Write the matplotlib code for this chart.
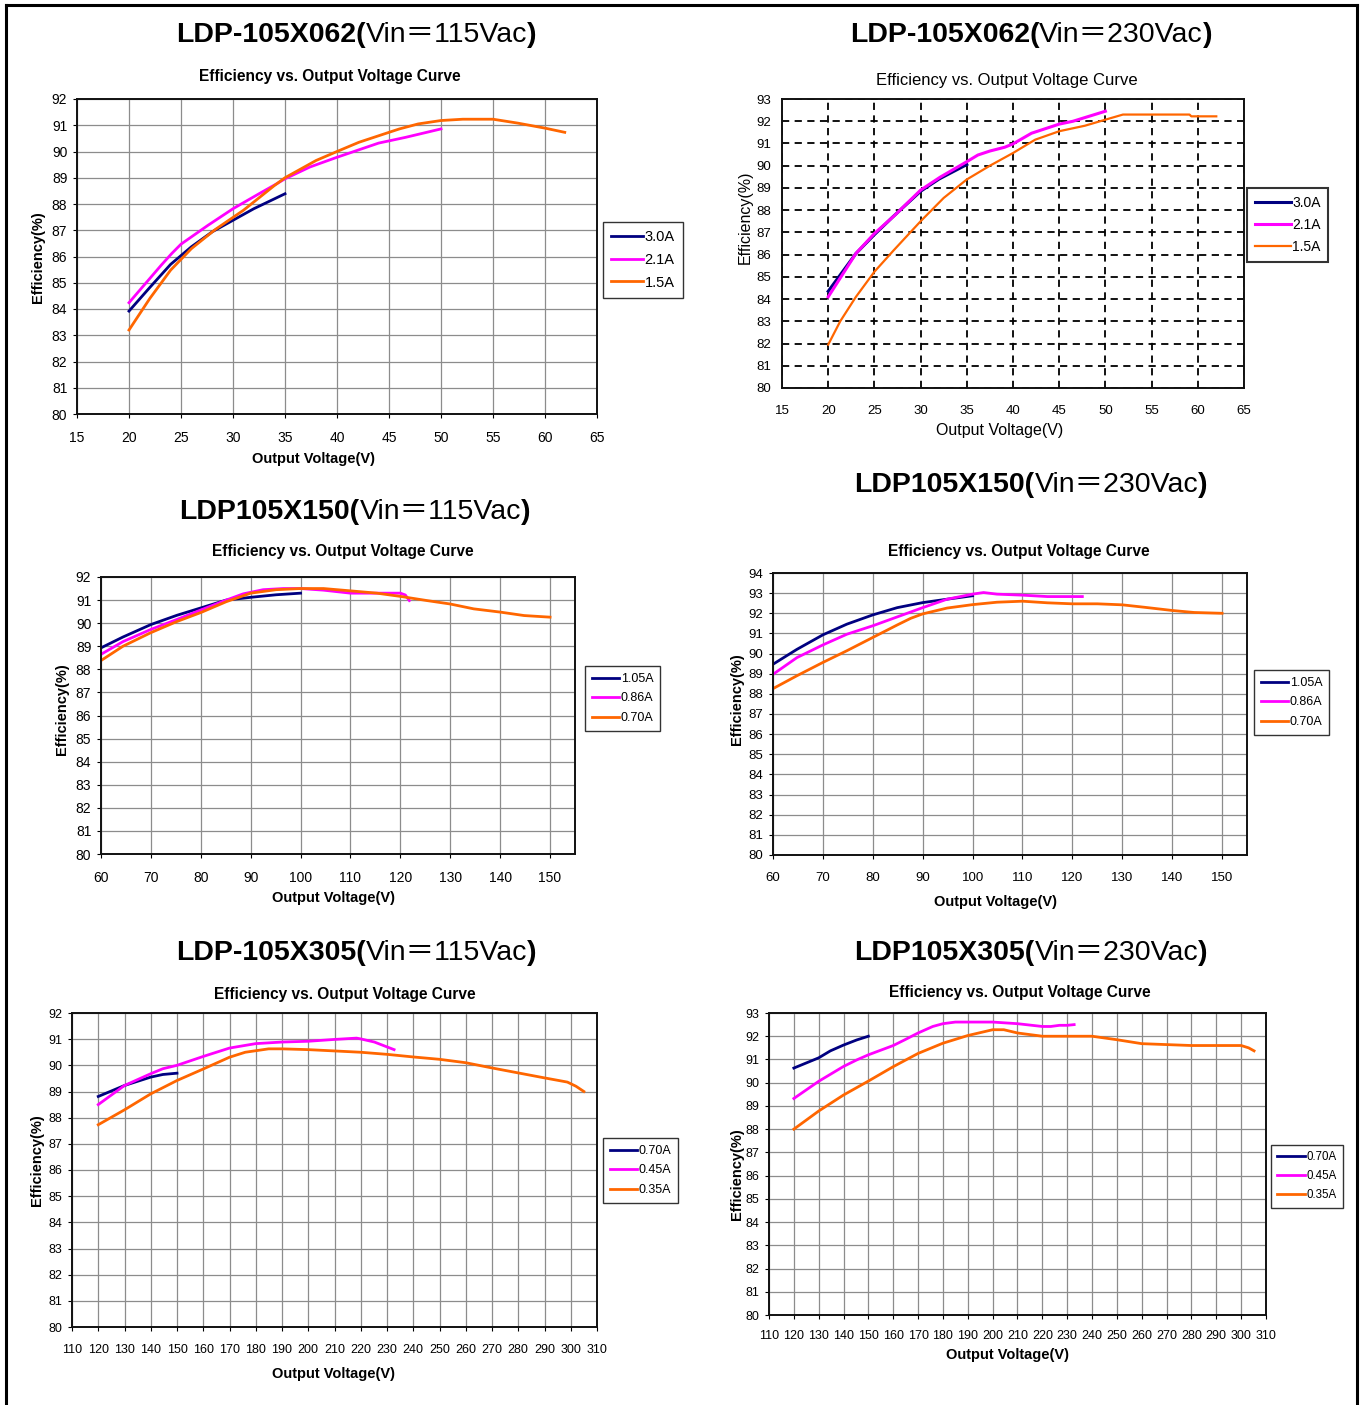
import matplotlib
matplotlib.use("Agg")
import matplotlib.pyplot as plt
from matplotlib.lines import Line2D

W, H = 1362, 1405
NAVY = "#000080"
MAGENTA = "#FF00FF"
ORANGE = "#FF6600"

# ---- LDP-105X062, 115Vac
p1_v_30 = [20, 22, 24, 26, 28, 30, 32, 34, 35]
p1_e_30 = [83.92, 84.82, 85.70, 86.37, 86.94, 87.38, 87.82, 88.2, 88.39]
p1_v_21 = [20, 23.1, 24.1, 25, 27.6, 30, 32.5, 34.2, 35, 37.4, 40, 44, 46.6, 50]
p1_e_21 = [84.24, 85.67, 86.11, 86.47, 87.19, 87.82, 88.39, 88.77, 88.96, 89.41, 89.78, 90.32, 90.54, 90.86]
p1_v_15 = [20, 22, 24, 26, 28.3, 31, 34, 35, 38, 40, 42.1, 45, 46, 47.8, 50, 52.1, 55, 55.8, 57.4, 60, 61.9]
p1_e_15 = [83.2, 84.4, 85.48, 86.3, 87.03, 87.76, 88.71, 89.0, 89.66, 90.0, 90.35, 90.73, 90.86, 91.05,
           91.18, 91.23, 91.23, 91.18, 91.08, 90.89, 90.73]

# ---- LDP-105X062, 230Vac
p2_v_30 = [20, 23, 25, 27, 30, 32, 35]
p2_e_30 = [84.35, 86.05, 86.9, 87.7, 88.85, 89.4, 90.05]
p2_v_21 = [20, 23, 25, 27.1, 30, 32.1, 35, 36.2, 37.5, 39.1, 40, 42, 45, 46.5, 50]
p2_e_21 = [84.1, 86.05, 86.95, 87.73, 88.9, 89.48, 90.18, 90.48, 90.66, 90.83, 90.98, 91.46, 91.87, 92.0, 92.45]
p2_v_15 = [20, 21.3, 23, 25, 27.1, 30, 32.5, 35, 37.5, 40, 42.4, 45, 47.8, 50, 51.9, 55, 59.1, 59.3, 62]
p2_e_15 = [81.95, 83.0, 84.1, 85.23, 86.2, 87.5, 88.55, 89.38, 90.0, 90.57, 91.17, 91.55, 91.8, 92.07,
           92.3, 92.3, 92.3, 92.22, 92.22]

# ---- LDP105X150, 115Vac
p3_v_105 = [60, 64.4, 70, 75.2, 80, 85.1, 90, 95.1, 100]
p3_e_105 = [88.93, 89.4, 89.94, 90.34, 90.66, 91.0, 91.12, 91.23, 91.3]
p3_v_086 = [60, 64.4, 70, 75.2, 80, 85.1, 88.5, 92.5, 96.5, 100, 104.6, 110, 115.3, 120, 121, 121.8]
p3_e_086 = [88.65, 89.2, 89.73, 90.16, 90.57, 91.0, 91.27, 91.45, 91.5, 91.5, 91.43, 91.3, 91.3, 91.3, 91.22, 90.98]
p3_v_070 = [60, 64.4, 70, 75.2, 80, 85.1, 90, 95.1, 100, 104.6, 110, 115.3, 120, 125.3, 130, 134.7, 140, 144.8, 150]
p3_e_070 = [88.38, 89.0, 89.59, 90.07, 90.46, 90.93, 91.3, 91.45, 91.5, 91.5, 91.4, 91.3, 91.16, 90.98,
            90.83, 90.62, 90.48, 90.33, 90.26]

# ---- LDP105X150, 230Vac
p4_v_105 = [60, 64.8, 70, 74.8, 80, 84.9, 90, 94.9, 100]
p4_e_105 = [89.47, 90.21, 90.93, 91.46, 91.92, 92.28, 92.53, 92.7, 92.87]
p4_v_086 = [60, 64.8, 70, 74.8, 80, 84.9, 90, 94.9, 100, 102.2, 104.9, 110, 115, 122]
p4_e_086 = [88.97, 89.8, 90.43, 90.96, 91.38, 91.82, 92.28, 92.7, 92.95, 93.03, 92.95, 92.9, 92.83, 92.83]
p4_v_070 = [60, 64.8, 70, 74.8, 80, 84.9, 87.6, 90, 94.9, 100, 104.9, 110, 115, 120, 125, 130, 134.4, 140, 144.4, 150]
p4_e_070 = [88.26, 88.9, 89.56, 90.14, 90.8, 91.42, 91.75, 91.97, 92.26, 92.43, 92.55, 92.6, 92.52, 92.47,
            92.47, 92.42, 92.3, 92.14, 92.04, 92.0]

# ---- LDP-105X305, 115Vac
p5_v_070 = [120, 130, 140, 144.6, 150]
p5_e_070 = [88.81, 89.23, 89.55, 89.65, 89.7]
p5_v_045 = [120, 130, 140, 144.6, 150, 160, 170, 180, 190, 200, 210, 218.4, 220, 225.2, 232.7]
p5_e_045 = [88.5, 89.23, 89.68, 89.87, 90.0, 90.34, 90.66, 90.83, 90.89, 90.92, 90.99, 91.04, 91.01, 90.89, 90.6]
p5_v_035 = [120, 130, 140, 150, 160, 170, 176, 184.9, 190, 200, 210, 220, 230, 240, 250, 260, 270, 280,
            290, 298.7, 302, 305]
p5_e_035 = [87.73, 88.3, 88.91, 89.42, 89.86, 90.31, 90.5, 90.63, 90.63, 90.6, 90.55, 90.5, 90.42, 90.32,
            90.23, 90.1, 89.9, 89.71, 89.52, 89.36, 89.2, 89.0]

# ---- LDP105X305, 230Vac
p6_v_070 = [120, 130, 134.7, 140, 145.3, 150]
p6_e_070 = [90.63, 91.07, 91.37, 91.62, 91.84, 92.0]
p6_v_045 = [120, 130, 140, 145.3, 150, 160, 164.7, 170, 175.9, 180, 185, 200, 210, 220, 223.4, 226.9, 230, 232.8]
p6_e_045 = [89.32, 90.06, 90.7, 90.98, 91.2, 91.6, 91.85, 92.14, 92.42, 92.54, 92.61, 92.61, 92.54, 92.42,
            92.42, 92.47, 92.47, 92.5]
p6_v_035 = [120, 130, 140, 150, 160, 170, 180, 190, 200, 204.5, 210, 220, 240, 250, 260, 270, 280, 300, 303, 305.2]
p6_e_035 = [88.0, 88.78, 89.47, 90.07, 90.69, 91.26, 91.7, 92.03, 92.28, 92.28, 92.14, 92.0, 92.0, 91.85,
            91.68, 91.64, 91.6, 91.6, 91.5, 91.37]

SANS = ["Liberation Sans", "Noto Sans CJK SC", "DejaVu Sans"]
NARROW = ["Liberation Sans Narrow", "Liberation Sans", "DejaVu Sans"]
plt.rcParams["font.family"] = SANS

fig = plt.figure(figsize=(W / 100, H / 100), dpi=100)


def fx(x):
    return x / W


def fy(y):
    return 1 - y / H


def add_ax(l, t, r, b):
    return fig.add_axes([fx(l), fy(b), (r - l) / W, (b - t) / H])


def mixed_title(cx, cy, parts, size=20.5):
    renderer = fig.canvas.get_renderer()
    texts = []
    for s, w in parts:
        texts.append(fig.text(0, fy(cy), s, fontsize=size, fontweight=w, va="center", ha="left", family=SANS))
    widths = [t.get_window_extent(renderer).width for t in texts]
    x = cx - sum(widths) / 2
    for t, wd in zip(texts, widths):
        t.set_x(fx(x))
        x += wd


def title(cx, cy, model, vin):
    mixed_title(cx, cy, [(model + "(", "bold"), ("Vin＝" + vin, "normal"), (")", "bold")])


def style_axes(ax, xlim, xticks, ylim, dashed=False, family=SANS, tsize=10, xpad=9):
    ax.set_xlim(*xlim)
    ax.set_ylim(*ylim)
    ax.set_xticks(xticks)
    ax.set_yticks(range(ylim[0], ylim[1] + 1))
    if dashed:
        ax.grid(True, color="black", linestyle=(0, (4, 3)), linewidth=1.3)
        ax.tick_params(length=0, pad=8, labelsize=tsize)
        ax.tick_params(axis="x", pad=12)
    else:
        ax.grid(True, color="#8c8c8c", linewidth=0.9)
        ax.tick_params(length=3, width=0.8, labelsize=tsize, pad=4)
        ax.tick_params(axis="x", pad=xpad)
    for lab in ax.get_xticklabels() + ax.get_yticklabels():
        lab.set_family(family)
    for sp in ax.spines.values():
        sp.set_linewidth(1.4)
        sp.set_color("#111111")
    ax.set_axisbelow(True)


def legend(ax, l, t, size=9.5, family=SANS, lw=1.0, hl=2.2):
    lg = ax.legend(loc="upper left", bbox_to_anchor=(fx(l), fy(t)), bbox_transform=fig.transFigure,
                   frameon=True, fancybox=False, edgecolor="black", borderpad=0.55, handlelength=hl,
                   handletextpad=0.1, labelspacing=0.6, borderaxespad=0,
                   prop={"family": family, "size": size})
    lg.get_frame().set_linewidth(lw)
    return lg


def labels(xl_x, xl_y, yl_x, yl_y, weight="bold", size=10.5, family=SANS):
    fig.text(fx(xl_x), fy(xl_y), "Output Voltage(V)", ha="center", va="center", fontsize=size,
             fontweight=weight, family=family)
    fig.text(fx(yl_x), fy(yl_y), "Efficiency(%)", ha="center", va="center", rotation=90, fontsize=size,
             fontweight=weight, family=family)


def subtitle(cx, cy, weight="bold", family=NARROW, size=11.2):
    fig.text(fx(cx), fy(cy), "Efficiency vs. Output Voltage Curve", ha="center", va="center",
             fontsize=size, fontweight=weight, family=family)


# panel 1
ax1 = add_ax(77, 99, 597, 414)
ax1.plot(p1_v_30, p1_e_30, color=NAVY, lw=2, label="3.0A")
ax1.plot(p1_v_21, p1_e_21, color=MAGENTA, lw=2, label="2.1A")
ax1.plot(p1_v_15, p1_e_15, color=ORANGE, lw=2, label="1.5A")
style_axes(ax1, (15, 65), range(15, 66, 5), (80, 92))
legend(ax1, 603, 222, size=10.5)
title(356, 35, "LDP-105X062", "115Vac")
subtitle(330, 77)
labels(314, 459, 38, 257)

# panel 2
ax2 = add_ax(782, 99, 1244, 388)
ax2.plot(p2_v_30, p2_e_30, color=NAVY, lw=2.2, label="3.0A")
ax2.plot(p2_v_21, p2_e_21, color=MAGENTA, lw=2.2, label="2.1A")
ax2.plot(p2_v_15, p2_e_15, color=ORANGE, lw=1.6, label="1.5A")
style_axes(ax2, (15, 65), range(15, 66, 5), (80, 93), dashed=True, family=NARROW, tsize=9.5)
legend(ax2, 1247, 188, size=10, family=NARROW, lw=1.5, hl=2.6)
title(1031, 35, "LDP-105X062", "230Vac")
subtitle(1007, 80, weight="normal", size=12)
labels(1000, 430, 745, 217, weight="normal", size=11.5, family=NARROW)

# panel 3
ax3 = add_ax(101, 577, 575, 854)
ax3.plot(p3_v_105, p3_e_105, color=NAVY, lw=2, label="1.05A")
ax3.plot(p3_v_086, p3_e_086, color=MAGENTA, lw=2, label="0.86A")
ax3.plot(p3_v_070, p3_e_070, color=ORANGE, lw=2, label="0.70A")
style_axes(ax3, (60, 155), range(60, 151, 10), (80, 92))
legend(ax3, 585, 666, size=9)
title(355, 512, "LDP105X150", "115Vac")
subtitle(343, 552)
labels(334, 898, 62, 709)

# panel 4
ax4 = add_ax(773, 573, 1247, 855)
ax4.plot(p4_v_105, p4_e_105, color=NAVY, lw=2, label="1.05A")
ax4.plot(p4_v_086, p4_e_086, color=MAGENTA, lw=2, label="0.86A")
ax4.plot(p4_v_070, p4_e_070, color=ORANGE, lw=2, label="0.70A")
style_axes(ax4, (60, 155), range(60, 151, 10), (80, 94), tsize=9.5)
legend(ax4, 1254, 670, size=9)
title(1031, 485, "LDP105X150", "230Vac")
subtitle(1019, 552)
labels(995, 902, 737, 699)

# panel 5
ax5 = add_ax(72, 1013, 597, 1327)
ax5.plot(p5_v_070, p5_e_070, color=NAVY, lw=2, label="0.70A")
ax5.plot(p5_v_045, p5_e_045, color=MAGENTA, lw=2, label="0.45A")
ax5.plot(p5_v_035, p5_e_035, color=ORANGE, lw=2, label="0.35A")
style_axes(ax5, (110, 310), range(110, 311, 10), (80, 92), tsize=9)
legend(ax5, 603, 1138, size=9)
title(356, 953, "LDP-105X305", "115Vac")
subtitle(345, 995)
labels(333, 1374, 37, 1160)

# panel 6
ax6 = add_ax(769, 1013, 1266, 1315)
ax6.plot(p6_v_070, p6_e_070, color=NAVY, lw=2, label="0.70A")
ax6.plot(p6_v_045, p6_e_045, color=MAGENTA, lw=2, label="0.45A")
ax6.plot(p6_v_035, p6_e_035, color=ORANGE, lw=2, label="0.35A")
style_axes(ax6, (110, 310), range(110, 311, 10), (80, 93), tsize=9, xpad=8)
legend(ax6, 1271, 1145, size=8.3, hl=2.4)
title(1031, 953, "LDP105X305", "230Vac")
subtitle(1020, 993)
labels(1008, 1355, 737, 1174)

# page frame
for xs, ys in [((6, 1357), (5, 5)), ((6, 6), (5, H)), ((1357, 1357), (5, H))]:
    fig.add_artist(Line2D([fx(xs[0]), fx(xs[1])], [fy(ys[0]), fy(ys[1])], color="black", lw=2.2,
                          transform=fig.transFigure))

fig.savefig("out.png", dpi=100)
